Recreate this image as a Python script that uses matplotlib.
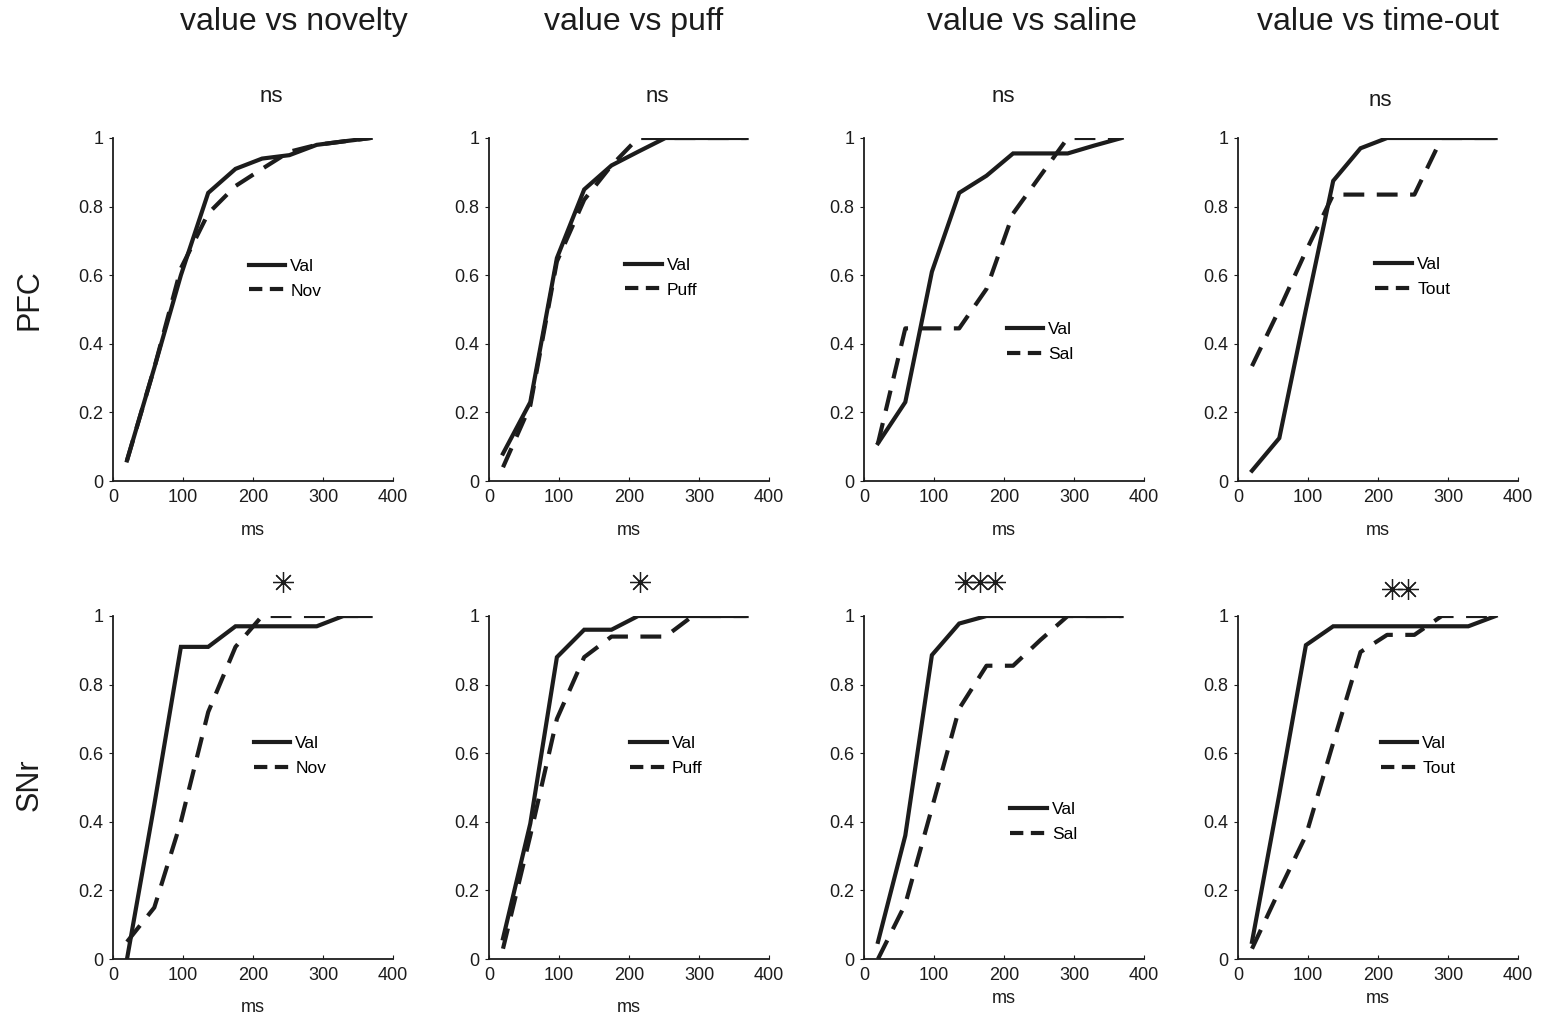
import matplotlib
matplotlib.use("Agg")
import matplotlib.pyplot as plt
from matplotlib.lines import Line2D

plt.rcParams['font.family'] = ['Liberation Sans', 'DejaVu Sans']

# time bins (ms)
ms = [20, 59, 97, 136, 175, 213, 252, 291, 329, 368]

titles = ["value vs novelty", "value vs puff", "value vs saline", "value vs time-out"]
other = ["Nov", "Puff", "Sal", "Tout"]
rows = ["PFC", "SNr"]
signif_pfc = ["ns", "ns", "ns", "ns"]
stars_snr = [[243], [216], [145, 166, 187], [220, 243]]

# PFC cumulative fractions
pfc_val = [
    [0.06, 0.33, 0.60, 0.84, 0.91, 0.94, 0.95, 0.98, 0.99, 1.00],
    [0.08, 0.23, 0.65, 0.85, 0.92, 0.96, 1.00, 1.00, 1.00, 1.00],
    [0.11, 0.23, 0.61, 0.84, 0.89, 0.955, 0.955, 0.955, 0.978, 1.00],
    [0.03, 0.125, 0.50, 0.875, 0.97, 1.00, 1.00, 1.00, 1.00, 1.00],
]
pfc_oth = [
    [0.06, 0.33, 0.62, 0.78, 0.86, 0.91, 0.96, 0.98, 0.99, 1.00],
    [0.04, 0.22, 0.64, 0.82, 0.92, 1.00, 1.00, 1.00, 1.00, 1.00],
    [0.11, 0.445, 0.445, 0.445, 0.56, 0.78, 0.89, 1.00, 1.00, 1.00],
    [0.335, 0.50, 0.67, 0.835, 0.835, 0.835, 0.835, 1.00, 1.00, 1.00],
]
# SNr cumulative fractions
snr_val = [
    [0.00, 0.45, 0.91, 0.91, 0.97, 0.97, 0.97, 0.97, 1.00, 1.00],
    [0.06, 0.395, 0.88, 0.96, 0.96, 1.00, 1.00, 1.00, 1.00, 1.00],
    [0.05, 0.36, 0.886, 0.978, 1.00, 1.00, 1.00, 1.00, 1.00, 1.00],
    [0.05, 0.48, 0.915, 0.97, 0.97, 0.97, 0.97, 0.97, 0.97, 1.00],
]
snr_oth = [
    [0.05, 0.15, 0.40, 0.72, 0.91, 1.00, 1.00, 1.00, 1.00, 1.00],
    [0.03, 0.36, 0.70, 0.88, 0.94, 0.94, 0.94, 1.00, 1.00, 1.00],
    [0.00, 0.16, 0.44, 0.73, 0.855, 0.855, 0.93, 1.00, 1.00, 1.00],
    [0.03, 0.20, 0.36, 0.63, 0.895, 0.945, 0.945, 1.00, 1.00, 1.00],
]

col = "#1c1c1c"
fig = plt.figure(figsize=(15.57, 10.19), dpi=100)

lefts = [113, 489, 864, 1238]
legpos = [[(0.484, 0.590), (0.487, 0.593), (0.509, 0.405), (0.491, 0.595)],
          [(0.502, 0.592), (0.505, 0.592), (0.523, 0.399), (0.509, 0.592)]]
ms_lab = [[-0.12, -0.12, -0.12, -0.12], [-0.117, -0.117, -0.09, -0.09]]

for r in range(2):
    bottom = [481, 959][r]
    vals = [pfc_val, snr_val][r]
    oths = [pfc_oth, snr_oth][r]
    for c in range(4):
        ax = fig.add_axes([lefts[c] / 1557, 1 - bottom / 1019, 280 / 1557, 343 / 1019])
        ax.plot(ms, vals[c], color=col, lw=3, solid_joinstyle="miter")
        ax.plot(ms, oths[c], color=col, lw=3, dashes=(5, 3))
        ax.set_xlim(0, 400)
        ax.set_ylim(0, 1)
        ax.set_xticks([0, 100, 200, 300, 400])
        ax.set_yticks([0, 0.2, 0.4, 0.6, 0.8, 1])
        ax.set_yticklabels(["0", "0.2", "0.4", "0.6", "0.8", "1"])
        ax.spines["top"].set_visible(False)
        ax.spines["right"].set_visible(False)
        ax.spines["left"].set_color(col)
        ax.spines["bottom"].set_color(col)
        ax.spines["left"].set_linewidth(1.3)
        ax.spines["bottom"].set_linewidth(1.3)
        ax.tick_params(axis="y", direction="out", length=3, labelsize=13, colors=col, pad=4)
        ax.tick_params(axis="x", direction="in", length=3, labelsize=13, colors=col, pad=6)
        ax.set_xlabel("ms", fontsize=13, color=col)
        ax.xaxis.set_label_coords(0.5, ms_lab[r][c])
        handles = [Line2D([], [], color=col, lw=3),
                   Line2D([], [], color=col, lw=3, dashes=(3.2, 1.8))]
        ax.legend(handles, ["Val", other[c]], loc="center left",
                  bbox_to_anchor=legpos[r][c], frameon=False,
                  fontsize=12.5, handlelength=2.1, handletextpad=0.3,
                  labelspacing=0.55, borderpad=0, borderaxespad=0)
        if r == 0:
            ny = 1.108 if c == 3 else 1.122
            nx = [226, 241, 199, 204][c]
            ax.text(nx, ny, signif_pfc[c], fontsize=16, color=col,
                    ha="center", va="center", clip_on=False)
        else:
            sy = 1.08 if c == 3 else 1.10
            ax.plot(stars_snr[c], [sy] * len(stars_snr[c]), linestyle="none",
                    marker=(8, 2, 0), markersize=15, markeredgewidth=0.9,
                    color=col, clip_on=False)

title_x = [294, 634, 1032, 1378]
for t, x in zip(titles, title_x):
    fig.text(x / 1557, 1 - 22 / 1019, t, fontsize=23, color=col, ha="center", va="center")

fig.text(30 / 1557, 1 - 300 / 1019, rows[0], fontsize=22, color=col,
         rotation=90, ha="center", va="center")
fig.text(30 / 1557, 1 - 785 / 1019, rows[1], fontsize=22, color=col,
         rotation=90, ha="center", va="center")

fig.savefig("out.png", dpi=100)
